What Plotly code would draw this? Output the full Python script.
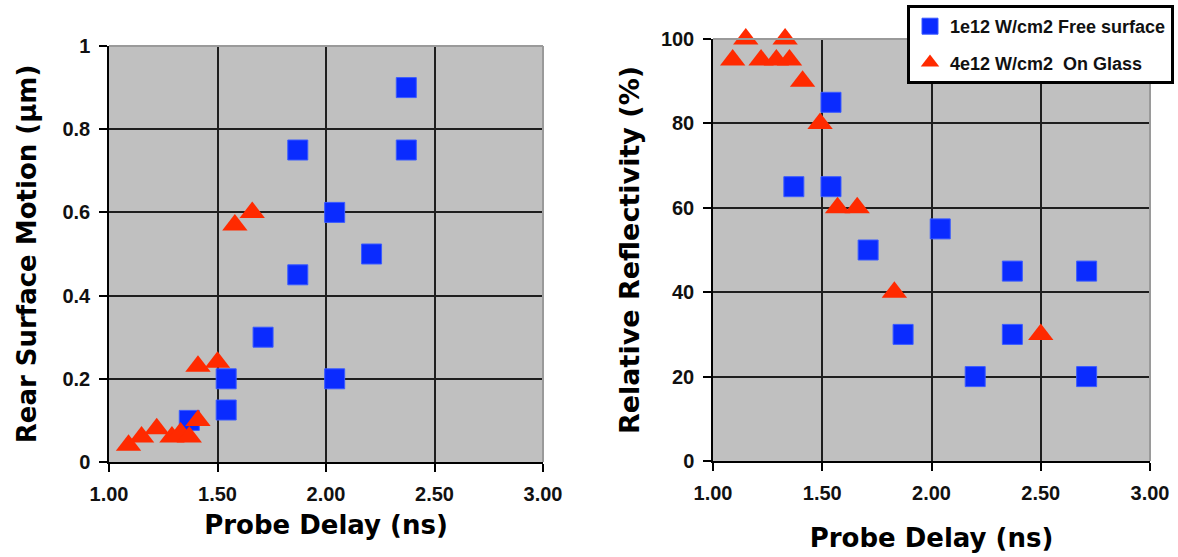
import plotly.graph_objects as go

# ---------------- data ----------------
# Left panel: Rear Surface Motion (um) vs Probe Delay (ns)
left_free_x = [2.37, 2.37, 1.87, 1.87, 2.04, 2.21, 1.71, 2.04, 1.54, 1.54, 1.37]
left_free_y = [0.90, 0.75, 0.75, 0.45, 0.60, 0.50, 0.30, 0.20, 0.20, 0.125, 0.10]
left_glass_x = [1.09, 1.15, 1.22, 1.29, 1.33, 1.37, 1.41, 1.41, 1.50, 1.58, 1.66]
left_glass_y = [0.04, 0.06, 0.08, 0.06, 0.07, 0.06, 0.10, 0.23, 0.24, 0.57, 0.60]

# Right panel: Relative Reflectivity (%) vs Probe Delay (ns)
right_free_x = [1.54, 1.37, 1.54, 1.71, 2.04, 2.37, 2.71, 1.87, 2.37, 2.20, 2.71]
right_free_y = [85, 65, 65, 50, 55, 45, 45, 30, 30, 20, 20]
right_glass_x = [1.09, 1.15, 1.22, 1.29, 1.33, 1.35, 1.41, 1.49, 1.57, 1.66, 1.83, 2.50]
right_glass_y = [95, 100, 95, 95, 100, 95, 90, 80, 60, 60, 40, 30]

series_names = ["1e12 W/cm2 Free surface", "4e12 W/cm2\u00a0 On Glass"]

x_ticks = [1.0, 1.5, 2.0, 2.5, 3.0]
left_y_ticks = [0, 0.2, 0.4, 0.6, 0.8, 1.0]
left_y_labels = ["0", "0.2", "0.4", "0.6", "0.8", "1"]
right_y_ticks = [0, 20, 40, 60, 80, 100]

# ---------------- style ----------------
W, H = 1178, 557
BLUE = "#0A2BFF"
RED = "#FF2A00"
ARIAL = "Liberation Sans, Arial, sans-serif"
WIDE = "DejaVu Sans, Liberation Sans, sans-serif"

def px_x(p):
    return p / W

def px_y(p):
    return 1 - p / H

fig = go.Figure()

sq = dict(symbol="square", size=20, color=BLUE, line=dict(color="#3A5BFF", width=1))
tri = dict(symbol="triangle-up", size=22, color=RED, line=dict(width=0))

fig.add_trace(go.Scatter(x=left_free_x, y=left_free_y, mode="markers", marker=sq,
                         xaxis="x", yaxis="y", showlegend=False, cliponaxis=False))
fig.add_trace(go.Scatter(x=left_glass_x, y=left_glass_y, mode="markers", marker=tri,
                         xaxis="x", yaxis="y", showlegend=False, cliponaxis=False))
fig.add_trace(go.Scatter(x=right_free_x, y=right_free_y, mode="markers", marker=sq,
                         xaxis="x2", yaxis="y2", name=series_names[0],
                         legendgroup="a", cliponaxis=False))
fig.add_trace(go.Scatter(x=right_glass_x, y=right_glass_y, mode="markers", marker=tri,
                         xaxis="x2", yaxis="y2", name=series_names[1],
                         legendgroup="b", cliponaxis=False))

tickfont = dict(family=ARIAL, size=20, color="#111111", weight="bold")
common_axis = dict(
    showline=True, linecolor="black", linewidth=1.5,
    ticks="outside", ticklen=8, tickwidth=1.5, tickcolor="black",
    showgrid=True, gridcolor="#1e1e1e", gridwidth=1.5,
    zeroline=False, tickfont=tickfont, automargin=False,
    ticklabelstandoff=5,
)

L = dict(x0=109, x1=543, y0=46, y1=462)
R = dict(x0=713, x1=1150, y0=39, y1=461)

fig.update_layout(
    width=W, height=H,
    margin=dict(l=0, r=0, t=0, b=0),
    paper_bgcolor="white",
    plot_bgcolor="#C0C0C0",
    showlegend=True,
    xaxis=dict(domain=[px_x(L["x0"]), px_x(L["x1"])], range=[1, 3],
               tickvals=x_ticks, tickformat=".2f", anchor="y",
               title=dict(text="<b>Probe Delay (ns)</b>", font=dict(family=WIDE, size=26, color="black"),
                          standoff=12),
               **common_axis),
    yaxis=dict(domain=[px_y(L["y1"]), px_y(L["y0"])], range=[0, 1],
               tickvals=left_y_ticks, ticktext=left_y_labels, anchor="x",
               title=dict(text="<b>Rear Surface Motion (\u00b5m)</b>", font=dict(family=WIDE, size=26, color="black"),
                          standoff=18),
               **common_axis),
    xaxis2=dict(domain=[px_x(R["x0"]), px_x(R["x1"])], range=[1, 3],
                tickvals=x_ticks, tickformat=".2f", anchor="y2",
                title=dict(text="<b>Probe Delay (ns)</b>", font=dict(family=WIDE, size=26, color="black"),
                           standoff=26),
                **common_axis),
    yaxis2=dict(domain=[px_y(R["y1"]), px_y(R["y0"])], range=[0, 100],
                tickvals=right_y_ticks, anchor="x2",
                title=dict(text="<b>Relative Reflectivity (%)</b>", font=dict(family=WIDE, size=27, color="black"),
                           standoff=13),
                **common_axis),
    legend=dict(
        x=px_x(907), y=px_y(5), xanchor="left", yanchor="top",
        bgcolor="white", bordercolor="black", borderwidth=3,
        font=dict(family=ARIAL, size=18, color="#111111", weight="bold"),
        tracegroupgap=10, itemsizing="trace",
    ),
)

# gray frame on top and right edges of each plot area
shapes = []
for ax, P in (("", L), ("2", R)):
    shapes.append(dict(type="line", xref="x%s domain" % ax, yref="y%s domain" % ax,
                       x0=0, x1=1, y0=1, y1=1, line=dict(color="#9a9a9a", width=2), layer="above"))
    shapes.append(dict(type="line", xref="x%s domain" % ax, yref="y%s domain" % ax,
                       x0=1, x1=1, y0=0, y1=1, line=dict(color="#9a9a9a", width=2), layer="above"))
fig.update_layout(shapes=shapes)

fig.write_html("out.html")
